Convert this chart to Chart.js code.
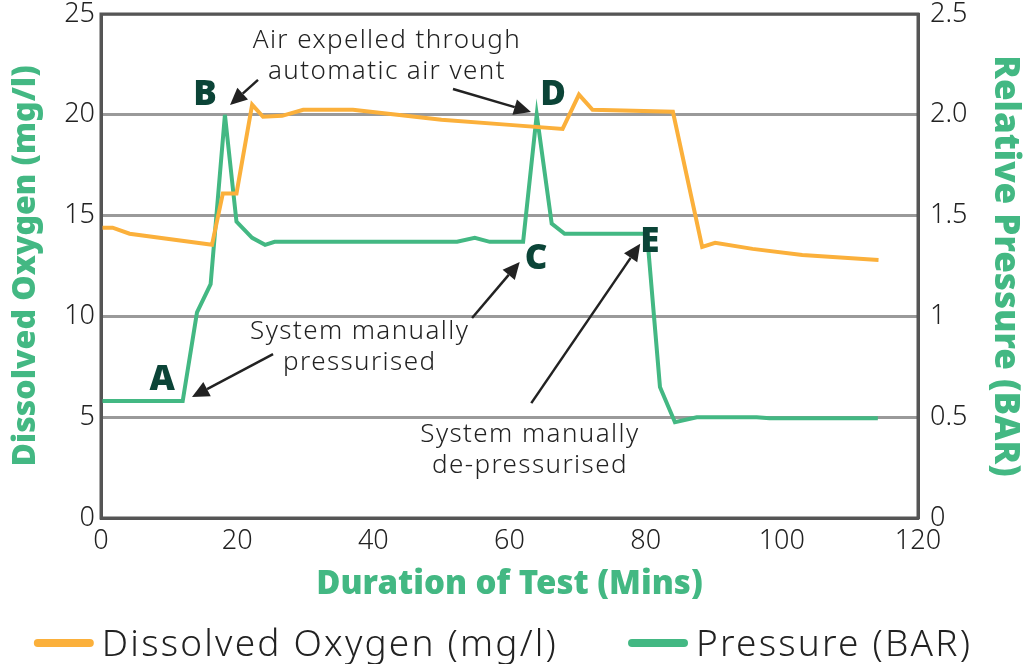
<html>
<head><title>Dissolved Oxygen vs Pressure</title></head>
<body style="margin:0;background:#fff">
<div class="chartBox">
	<canvas id="myChart" width="1025" height="664"></canvas>
</div>
<script src="https://cdn.jsdelivr.net/npm/chart.js@4.4.0/dist/chart.umd.min.js"></script>
<script>

// dissolved oxygen series (mg/l), left axis
const oxyTime = [0, 1.7, 4.2, 16.3, 17.9, 19.9, 22.2, 23.8, 26.6, 29.7, 37, 50, 60, 67.8, 70.2, 72.2, 84.0, 88.3, 90.2, 95.7, 103, 114.2];
const oxyValues = [14.4, 14.4, 14.1, 13.55, 16.1, 16.1, 20.5, 19.9, 19.95, 20.25, 20.25, 19.75, 19.5, 19.3, 21.0, 20.25, 20.15, 13.45, 13.65, 13.35, 13.05, 12.8];

// pressure series (BAR), right axis
const presTime = [0, 12.0, 14.1, 16.1, 18.2, 19.9, 22.2, 24.1, 25.5, 52.3, 54.9, 57.1, 62.0, 64.0, 66.2, 68.1, 80.2, 82.1, 84.3, 87.5, 96.3, 98.2, 114.1];
const presValues = [0.58, 0.58, 1.02, 1.16, 2.0, 1.47, 1.39, 1.355, 1.37, 1.37, 1.39, 1.37, 1.37, 2.0, 1.46, 1.41, 1.41, 0.65, 0.475, 0.5, 0.5, 0.495, 0.495];

const rightTickLabels = {0: '0', 0.5: '0.5', 1: '1', 1.5: '1.5', 2: '2.0', 2.5: '2.5'};

// annotation letters, in data units of the left axis
const letters = [
    {t: 'A', x: 9.0, y: 6.85},
    {t: 'B', x: 15.3, y: 21.0},
    {t: 'C', x: 63.9, y: 12.85},
    {t: 'D', x: 66.4, y: 21.0},
    {t: 'E', x: 80.6, y: 13.7}
];
const notes = [
    {lines: ['Air expelled through', 'automatic air vent'], x: 42.0, y: 23.66},
    {lines: ['System manually', 'pressurised'], x: 38.0, y: 9.23},
    {lines: ['System manually', 'de-pressurised'], x: 63.0, y: 4.12}
];
const arrows = [
    {x1: 23.06, y1: 21.73, x2: 18.95, y2: 20.49},
    {x1: 51.7, y1: 21.28, x2: 63.16, y2: 20.14},
    {x1: 25.27, y1: 8.13, x2: 13.37, y2: 6.0},
    {x1: 54.5, y1: 9.92, x2: 61.5, y2: 12.7},
    {x1: 63.2, y1: 5.7, x2: 79.2, y2: 13.6}
];

const orange = '#fbb03b';
const green = '#43b883';
const fontName = 'Noto Sans';

const toPoints = (xs, ys) => xs.map((x, i) => ({x: x, y: ys[i]}));

// draws frame, notes, letters, arrows and the legend
const annotate = {
    id: 'annotate',
    afterDatasetsDraw(chart) {
        const ctx = chart.ctx;
        const sx = chart.scales.x, sy = chart.scales.y;
        const a = chart.chartArea;
        ctx.save();
        ctx.strokeStyle = '#555';
        ctx.lineWidth = 3;
        ctx.strokeRect(a.left, a.top, a.right - a.left, a.bottom - a.top);

        ctx.fillStyle = '#222';
        ctx.font = '300 26px "' + fontName + '"';
        ctx.letterSpacing = '1.4px';
        ctx.textAlign = 'center';
        ctx.textBaseline = 'middle';
        notes.forEach(n => {
            const px = sx.getPixelForValue(n.x);
            let py = sy.getPixelForValue(n.y);
            n.lines.forEach(l => { ctx.fillText(l, px, py); py += 31; });
        });

        ctx.letterSpacing = '0px';
        ctx.fillStyle = '#0b4437';
        ctx.font = '900 35px "' + fontName + '"';
        letters.forEach(l => ctx.fillText(l.t, sx.getPixelForValue(l.x), sy.getPixelForValue(l.y)));

        ctx.strokeStyle = '#222';
        ctx.fillStyle = '#222';
        ctx.lineWidth = 2.5;
        arrows.forEach(ar => {
            const x1 = sx.getPixelForValue(ar.x1), y1 = sy.getPixelForValue(ar.y1);
            const x2 = sx.getPixelForValue(ar.x2), y2 = sy.getPixelForValue(ar.y2);
            const ang = Math.atan2(y2 - y1, x2 - x1);
            const hl = 17, hw = 8;
            const bx = x2 - hl * Math.cos(ang), by = y2 - hl * Math.sin(ang);
            ctx.beginPath();
            ctx.moveTo(x1, y1);
            ctx.lineTo(bx, by);
            ctx.stroke();
            ctx.beginPath();
            ctx.moveTo(x2, y2);
            ctx.lineTo(bx + hw * Math.sin(ang), by - hw * Math.cos(ang));
            ctx.lineTo(bx - hw * Math.sin(ang), by + hw * Math.cos(ang));
            ctx.closePath();
            ctx.fill();
        });

        // legend
        ctx.font = '300 37px "' + fontName + '"';
        ctx.letterSpacing = '2.2px';
        ctx.textAlign = 'left';
        const sets = chart.data.datasets;
        const mark = 60, gap = 8, between = 70;
        const widths = sets.map(d => ctx.measureText(d.label).width);
        let total = between * (sets.length - 1);
        widths.forEach(w => { total += mark + gap + w; });
        let lx = 503 - total / 2;
        const ly = 645;
        sets.forEach((d, i) => {
            ctx.strokeStyle = d.borderColor;
            ctx.lineWidth = 8;
            ctx.lineCap = 'round';
            ctx.beginPath();
            ctx.moveTo(lx + 4, ly - 2);
            ctx.lineTo(lx + mark - 4, ly - 2);
            ctx.stroke();
            ctx.fillStyle = '#222';
            ctx.fillText(d.label, lx + mark + gap, ly);
            lx += mark + gap + widths[i] + between;
        });
        ctx.restore();
    }
};

const data = {
    datasets: [{
        label: 'Dissolved Oxygen (mg/l)',
        data: toPoints(oxyTime, oxyValues),
        borderColor: orange,
        backgroundColor: orange,
        borderWidth: 4,
        pointRadius: 0,
        yAxisID: 'y'
    }, {
        label: 'Pressure (BAR)',
        data: toPoints(presTime, presValues),
        borderColor: green,
        backgroundColor: green,
        borderWidth: 4,
        pointRadius: 0,
        yAxisID: 'y2'
    }]
};

const tickFont = {family: fontName, size: 27, weight: '300'};
const titleFont = {family: fontName, size: 33, weight: '900', lineHeight: 1};

// fixed axis boxes so the plot area sits where the original one does
const fitVertical = w => s => { s.width = w; s.paddingTop = 0; s.paddingBottom = 0; };

const config = {
    type: 'line',
    data,
    plugins: [annotate],
    options: {
        responsive: false,
        animation: false,
        layout: {padding: {top: 14, left: 0, right: 0, bottom: 56}},
        plugins: {
            tooltip: {enabled: false},
            legend: {display: false}
        },
        scales: {
            x: {
                type: 'linear',
                min: 0, max: 120,
                ticks: {stepSize: 20, font: tickFont, color: '#222', padding: 7},
                grid: {display: false, drawTicks: false},
                border: {color: '#555', width: 3},
                title: {display: true, text: 'Duration of Test (Mins)', color: green, font: titleFont, padding: {top: 0, bottom: 7}},
                afterFit: s => { s.height = 90; s.paddingLeft = 0; s.paddingRight = 0; }
            },
            y: {
                position: 'left',
                min: 0, max: 25,
                ticks: {stepSize: 5, font: tickFont, color: '#222', padding: 6},
                grid: {color: '#9a9a9a', lineWidth: 3, drawTicks: false},
                border: {color: '#555', width: 3},
                title: {display: true, text: 'Dissolved Oxygen (mg/l)', color: green,
                    font: {family: fontName, size: 32, weight: '900', lineHeight: 1}, padding: {top: 10, bottom: 0}},
                afterFit: fitVertical(101)
            },
            y2: {
                position: 'right',
                min: 0, max: 2.5,
                ticks: {stepSize: 0.5, font: tickFont, color: '#222', padding: 12,
                    callback: v => rightTickLabels[v]},
                grid: {display: false, drawTicks: false},
                border: {color: '#555', width: 3},
                title: {display: true, text: 'Relative Pressure (BAR)', color: green,
                    font: {family: fontName, size: 35, weight: '900', lineHeight: 1}, padding: {top: 3, bottom: 0}},
                afterFit: fitVertical(107)
            }
        }
    }
};

const myChart = new Chart(document.getElementById('myChart'), config);
</script>
</body></html>
